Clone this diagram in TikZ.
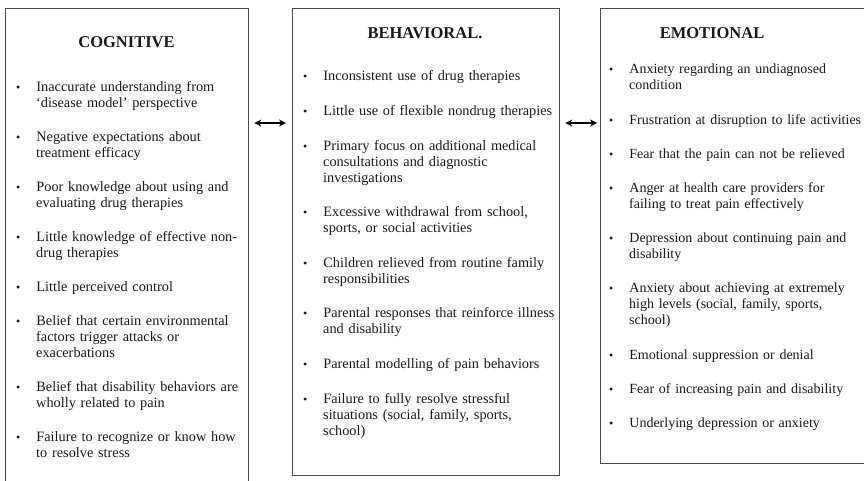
\documentclass[tikz,border=0pt]{standalone}
\usepackage{fontspec}
\setmainfont{Liberation Serif}
\usetikzlibrary{arrows.meta,positioning}

% bullet list used inside the three panels, #1 = space between points
\newenvironment{painpoints}[1]{%
  \begin{list}{\fontsize{12}{12}\selectfont\textbullet}{%
    \setlength\leftmargin{21pt}\setlength\labelwidth{4pt}\setlength\labelsep{16pt}%
    \setlength\itemsep{#1}\setlength\parsep{0pt}%
    \setlength\topsep{0pt}\setlength\partopsep{0pt}}}%
  {\end{list}}

\tikzset{
  panel/.style={draw=black!70, line width=1.3pt, inner sep=0pt, anchor=north west},
  heading/.style={font=\fontsize{16.5}{18}\selectfont\bfseries, text=black!90},
  points/.style={anchor=north west, inner sep=0pt, text width=300pt, align=left,
    font=\fontsize{#1}{16}\selectfont, text=black!90},
  points/.default=14.3,
  link/.style={{Stealth[length=7pt,width=7pt]}-{Stealth[length=7pt,width=7pt]}, line width=1.4pt},
}

\begin{document}
\begin{tikzpicture}[x=1pt, y=-1pt]
  \useasboundingbox (0,0) rectangle (864,480);
  \clip (0,0) rectangle (864,480);

  % Panels
  \node [panel, minimum width=243pt, minimum height=490pt] (cog) at (5,8) {};
  \node [panel, minimum width=267pt, minimum height=467pt] (beh) at (292,8) {};
  \node [panel, minimum width=280pt, minimum height=455pt] (emo) at (600,8) {};

  % Headings
  \node [heading] (cogtitle) at (126.5,42) {COGNITIVE};
  \node [heading] (behtitle) at (425,33) {BEHAVIORAL.};
  \node [heading] (emotitle) at (712,33) {EMOTIONAL};

  % Cognitive factors
  \node [points] (coglist) at (15,75.7) {%
    \begin{painpoints}{18pt}
      \item Inaccurate understanding from\\ `disease model' perspective
      \item Negative expectations about\\ treatment efficacy
      \item Poor knowledge about using and\\ evaluating drug therapies
      \item Little knowledge of effective non-\\ drug therapies
      \item Little perceived control
      \item Belief that certain environmental\\ factors trigger attacks or\\ exacerbations
      \item Belief that disability behaviors are\\ wholly related to pain
      \item Failure to recognize or know how\\ to resolve stress
    \end{painpoints}};

  % Behavioral factors
  \node [points] (behlist) at (302,64.7) {%
    \begin{painpoints}{18.6pt}
      \item Inconsistent use of drug therapies
      \item Little use of flexible nondrug therapies
      \item Primary focus on additional medical\\ consultations and diagnostic\\ investigations
      \item Excessive withdrawal from school,\\ sports, or social activities
      \item Children relieved from routine family\\ responsibilities
      \item Parental responses that reinforce illness\\ and disability
      \item Parental modelling of pain behaviors
      \item Failure to fully resolve stressful\\ situations (social, family, sports,\\ school)
    \end{painpoints}};

  % Emotional factors
  \node [points=14] (emolist) at (608,57.7) {%
    \begin{painpoints}{18.2pt}
      \item Anxiety regarding an undiagnosed\\ condition
      \item Frustration at disruption to life activities
      \item Fear that the pain can not be relieved
      \item Anger at health care providers for\\ failing to treat pain effectively
      \item Depression about continuing pain and\\ disability
      \item Anxiety about achieving at extremely\\ high levels (social, family, sports,\\ school)
      \item Emotional suppression or denial
      \item Fear of increasing pain and disability
      \item Underlying depression or anxiety
    \end{painpoints}};

  % Links between panels
  \coordinate (linky) at (0,123);
  \draw [link] ([xshift=5pt]cog.east |- linky) -- ([xshift=-6pt]beh.west |- linky);
  \draw [link] ([xshift=5pt]beh.east |- linky) -- ([xshift=-3pt]emo.west |- linky);
\end{tikzpicture}
\end{document}
